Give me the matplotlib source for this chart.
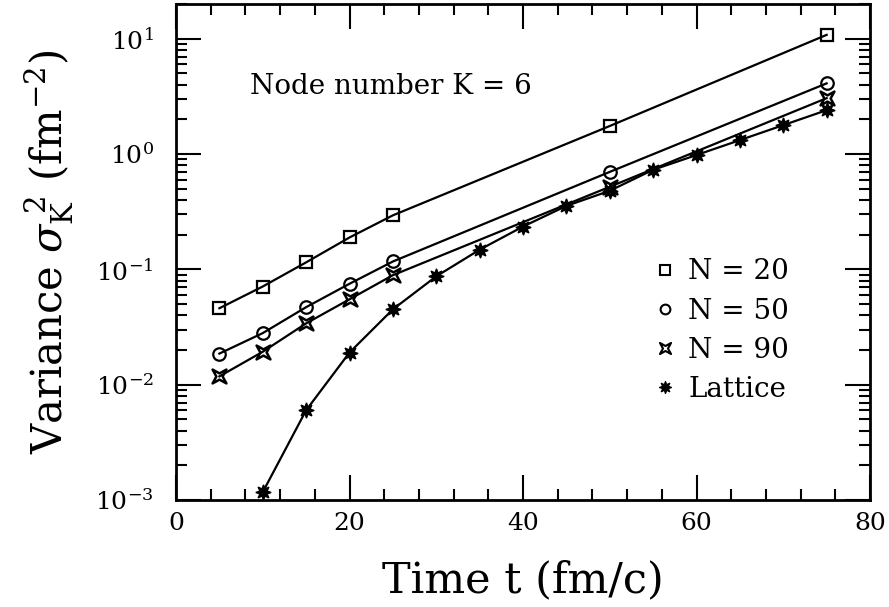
import matplotlib
matplotlib.use("Agg")
import matplotlib.pyplot as plt
from matplotlib.lines import Line2D
from matplotlib.path import Path
from matplotlib.ticker import MultipleLocator, LogLocator, NullFormatter

# data
t_20 = [5, 10, 15, 20, 25, 50, 75]
var_20 = [0.046, 0.071, 0.115, 0.189, 0.294, 1.75, 10.8]

t_50 = [5, 10, 15, 20, 25, 50, 75]
var_50 = [0.0186, 0.028, 0.047, 0.075, 0.117, 0.70, 4.1]

t_90 = [5, 10, 15, 20, 25, 50, 75]
var_90 = [0.0118, 0.0193, 0.034, 0.055, 0.089, 0.52, 3.05]

t_lat = [10, 15, 20, 25, 30, 35, 40, 45, 50, 55, 60, 65, 70, 75]
var_lat = [0.00117, 0.006, 0.019, 0.045, 0.087, 0.148, 0.235, 0.355, 0.48,
           0.73, 0.98, 1.32, 1.78, 2.4]

labels = ["N = 20", "N = 50", "N = 90", "Lattice"]


def concave_square():
    # four pointed star with corners at the diagonals
    verts = [(-1, -1), (0, -0.45), (1, -1), (0.45, 0), (1, 1), (0, 0.45),
             (-1, 1), (-0.45, 0), (-1, -1)]
    codes = [Path.MOVETO] + [Path.LINETO] * 7 + [Path.CLOSEPOLY]
    return Path(verts, codes)


def main():
    plt.rcParams['font.family'] = ['DejaVu Serif']
    plt.rcParams['mathtext.fontset'] = 'dejavuserif'

    fig = plt.figure(figsize=(8.89, 6.07), dpi=100)
    ax = fig.add_axes([176 / 889, 107 / 607, 694 / 889, 496 / 607])

    x_mark = concave_square()
    star = (8, 1, 0)

    ax.plot(t_20, var_20, color='black', lw=1.6, marker='s', ms=9,
            mfc='none', mec='black', mew=1.6)
    ax.plot(t_50, var_50, color='black', lw=1.6, marker='o', ms=9,
            mfc='none', mec='black', mew=1.6)
    ax.plot(t_90, var_90, color='black', lw=1.6, marker=x_mark, ms=10,
            mfc='none', mec='black', mew=1.8)
    ax.plot(t_lat, var_lat, color='black', lw=1.6, marker=star, ms=11,
            mfc='black', mec='black', mew=1.0)

    ax.set_yscale('log')
    ax.set_xlim(0, 80)
    ax.set_ylim(1e-3, 20)

    ax.xaxis.set_major_locator(MultipleLocator(20))
    ax.xaxis.set_minor_locator(MultipleLocator(4))
    ax.yaxis.set_major_locator(LogLocator(base=10, numticks=10))
    ax.yaxis.set_minor_locator(LogLocator(base=10, subs=range(2, 10),
                                          numticks=50))
    ax.yaxis.set_minor_formatter(NullFormatter())

    ax.tick_params(which='both', direction='in', top=True, right=True,
                   width=1.5, labelsize=18)
    ax.tick_params(which='major', length=18)
    ax.tick_params(which='minor', length=8)
    ax.tick_params(axis='x', which='major', pad=9)
    ax.tick_params(axis='y', which='major', pad=16)
    for sp in ax.spines.values():
        sp.set_linewidth(2)

    ax.set_xlabel('Time t (fm/c)', fontsize=31, labelpad=17)
    ax.set_ylabel(r'Variance $\sigma_{\rm K}^{\ 2}$ (fm$^{-2}$)',
                  fontsize=30, labelpad=14)

    ax.text(0.107, 0.833, 'Node number K = 6', transform=ax.transAxes,
            fontsize=20, va='center', ha='left')

    handles = [
        Line2D([], [], ls='none', marker='s', ms=7, mfc='none', mec='black',
               mew=1.5),
        Line2D([], [], ls='none', marker='o', ms=7, mfc='none', mec='black',
               mew=1.5),
        Line2D([], [], ls='none', marker=x_mark, ms=8, mfc='none',
               mec='black', mew=1.5),
        Line2D([], [], ls='none', marker=star, ms=9, mfc='black',
               mec='black', mew=0.8),
    ]
    ax.legend(handles, labels, loc='upper left', bbox_to_anchor=(0.67, 0.515),
              frameon=False, fontsize=20, handlelength=0.7,
              handletextpad=0.5, labelspacing=0.44, borderpad=0)

    fig.savefig('out.png', dpi=100)


if __name__ == "__main__":
    main()
